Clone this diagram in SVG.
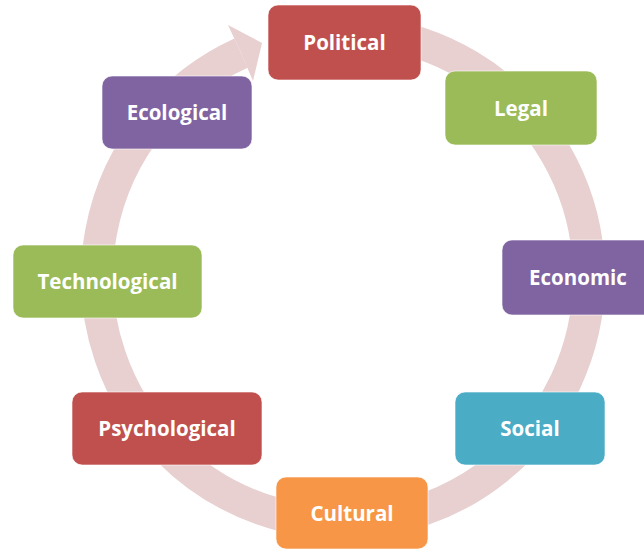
<svg xmlns="http://www.w3.org/2000/svg" width="644" height="551" viewBox="0 0 644 551">
<style>
.node rect{stroke:#ffffff;stroke-opacity:0.6;stroke-width:1}
.node text{font-family:"Open Sans","Noto Sans","Liberation Sans",sans-serif;font-weight:bold;font-size:20.5px;fill:#ffffff;text-anchor:middle}
.red rect{fill:#C0504D}
.green rect{fill:#9BBB59}
.purple rect{fill:#8064A2}
.aqua rect{fill:#4BACC6}
.orange rect{fill:#F79646}
.ring{fill:none;stroke:#E8CFD0;stroke-width:32}
.head{fill:#E8CFD0}
</style>
<rect width="644" height="551" fill="#ffffff"/>
<g id="connectors">
<path class="ring" d="M 364.4 31.9 A 246 246 0 1 1 241.0 53.1"/>
<polygon class="head" points="228,25 262,43 253,81 241,53"/>
</g>
<g id="political" class="node red"><rect x="268" y="5" width="153" height="75" rx="10"/><text x="344.5" y="50">Political</text></g>
<g id="legal" class="node green"><rect x="445" y="71" width="152" height="74" rx="10"/><text x="521" y="115.5">Legal</text></g>
<g id="economic" class="node purple"><rect x="502" y="240" width="152" height="75" rx="10"/><text x="578" y="285">Economic</text></g>
<g id="social" class="node aqua"><rect x="455" y="392" width="150" height="73" rx="10"/><text x="530" y="436">Social</text></g>
<g id="cultural" class="node orange"><rect x="276" y="477" width="152" height="72" rx="10"/><text x="352" y="520.5">Cultural</text></g>
<g id="psychological" class="node red"><rect x="72" y="392" width="190" height="73" rx="10"/><text x="167" y="436">Psychological</text></g>
<g id="technological" class="node green"><rect x="13" y="245" width="189" height="73" rx="10"/><text x="107.5" y="289">Technological</text></g>
<g id="ecological" class="node purple"><rect x="102" y="76" width="150" height="73" rx="10"/><text x="177" y="120">Ecological</text></g>
</svg>
